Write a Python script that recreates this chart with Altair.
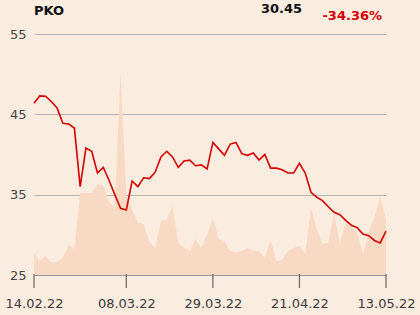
import altair as alt
import pandas as pd

# Trading-day index (0..61) from 14.02.22 to 13.05.22
price = [46.39, 47.3, 47.25, 46.6, 45.8, 43.9, 43.8, 43.3, 36.0, 40.8,
         40.4, 37.7, 38.4, 36.8, 35.0, 33.3, 33.1, 36.7, 36.0, 37.1,
         37.0, 37.8, 39.7, 40.4, 39.7, 38.4, 39.2, 39.3, 38.6, 38.7,
         38.2, 41.5, 40.7, 39.9, 41.3, 41.5, 40.1, 39.9, 40.2, 39.3,
         40.0, 38.3, 38.3, 38.1, 37.7, 37.7, 38.9, 37.7, 35.3, 34.7,
         34.25, 33.5, 32.8, 32.5, 31.8, 31.2, 30.9, 30.1, 29.9, 29.3,
         29.0, 30.45]
volume = [21, 14, 19, 13, 13, 17, 30, 26, 82, 82,
          82, 91, 90, 73, 67, 203, 80, 65, 52, 51,
          33, 27, 54, 55, 69, 32, 27, 24, 36, 27,
          41, 57, 36, 34, 24, 23, 24, 27, 24.5, 23.5,
          17.5, 35, 14, 15, 24, 27, 29, 21, 67, 45,
          31, 32, 62, 31, 52, 48, 42, 21, 43, 58,
          78, 56]
tick_idx = [0, 16, 31, 46, 61]
tick_labels = ["14.02.22", "08.03.22", "29.03.22", "21.04.22", "13.05.22"]
y_ticks = [25, 35, 45, 55]
ticker = "PKO"
last_price = "30.45"
change = "-34.36%"

df = pd.DataFrame({"i": list(range(len(price))), "price": price, "volume": volume})
ticks_df = pd.DataFrame({"i": tick_idx})

expr = "''"
for v, l in reversed(list(zip(tick_idx, tick_labels))):
    expr = f"datum.value == {v} ? '{l}' : ({expr})"

FONT = "DejaVu Sans"
xscale = alt.Scale(domain=[0, 61], nice=False, zero=False)
xaxis = alt.Axis(values=tick_idx, labelExpr=expr, title=None, grid=False,
                 domain=True, domainColor="#9a9a9a", domainWidth=1,
                 ticks=False, labelFontSize=13, labelColor="#3a3a3a", labelFont=FONT,
                 labelPadding=22, labelOverlap=False, labelFlush=False, labelBound=False)

area = alt.Chart(df).mark_area(color="#F8D9C3", opacity=1).encode(
    x=alt.X("i:Q", scale=xscale, axis=xaxis),
    y=alt.Y("volume:Q", scale=alt.Scale(domain=[0, 241], nice=False), axis=None),
)

line = alt.Chart(df).mark_line(color="#D40000", strokeWidth=1.6).encode(
    x=alt.X("i:Q", scale=xscale, axis=xaxis),
    y=alt.Y("price:Q", scale=alt.Scale(domain=[25, 55], nice=False, zero=False),
            axis=alt.Axis(values=y_ticks, title=None, grid=True, gridColor="#b3b3b3",
                          gridWidth=1, domain=False, ticks=False, labelPadding=8,
                          labelFontSize=13, labelColor="#444444", labelFont=FONT)),
)

tick_rules = alt.Chart(ticks_df).mark_rule(color="#707070", strokeWidth=1.3, clip=False).encode(
    x=alt.X("i:Q", scale=xscale, axis=xaxis),
    y=alt.value(240), y2=alt.value(254),
)

t1 = alt.Chart(pd.DataFrame({"t": [ticker]})).mark_text(
    font=FONT, fontSize=13, fontWeight="bold", color="#111111",
    align="left", baseline="alphabetic").encode(x=alt.value(0), y=alt.value(-19), text="t:N")
t2 = alt.Chart(pd.DataFrame({"t": [last_price]})).mark_text(
    font=FONT, fontSize=13, fontWeight="bold", color="#111111",
    align="right", baseline="alphabetic").encode(x=alt.value(268), y=alt.value(-21), text="t:N")
t3 = alt.Chart(pd.DataFrame({"t": [change]})).mark_text(
    font=FONT, fontSize=13, fontWeight="bold", color="#D40000",
    align="right", baseline="alphabetic").encode(x=alt.value(348), y=alt.value(-14), text="t:N")

chart = alt.layer(area, line, t1, t2, t3, tick_rules).resolve_scale(y="independent").properties(
    width=352, height=241,
    autosize=alt.AutoSizeParams(type="none"),
    padding={"left": 34, "top": 34, "right": 34, "bottom": 40},
    background="#FBECE0",
).configure_view(stroke=None)

chart.save("out.html", embed_options={"renderer": "svg", "actions": False})
